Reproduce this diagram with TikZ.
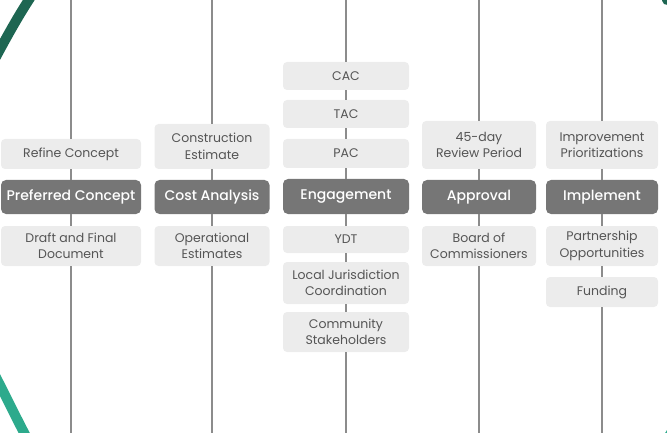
\documentclass[tikz,border=0pt]{standalone}
\usepackage{fontspec}
\setmainfont{Poppins}
\newfontfamily\phasefont{Poppins Medium}
\usetikzlibrary{calc}

\definecolor{boxlight}{HTML}{ECECEC}
\definecolor{boxdark}{HTML}{767676}
\definecolor{textgray}{HTML}{555555}
\definecolor{linegray}{HTML}{8C8C8C}
\definecolor{greendark}{HTML}{1E6652}
\definecolor{greenteal}{HTML}{2DAA8C}

\tikzset{
  task/.style={fill=boxlight, rounded corners=4pt, text=textgray, align=center,
    inner sep=0pt, font=\fontsize{12.5}{16.5}\selectfont},
  phase/.style={fill=boxdark, rounded corners=5pt, text=white, align=center,
    inner sep=0pt, font=\fontsize{14}{16}\selectfont\phasefont},
  track/.style={draw=linegray, line width=1.8pt},
  arc/.style={line width=10pt, line cap=round}
}

\begin{document}
\begin{tikzpicture}[x=1pt,y=-1pt]

\useasboundingbox (0,0) rectangle (667,433);
\clip (0,0) rectangle (667,433);

% green frame
\draw[arc,greendark](34,-8) .. controls (18,16) and (6,38) .. (-10,68);
\draw[arc,greenteal](-10,366) .. controls (4,392) and (14,414) .. (30,444);
\draw[arc,greendark](676,-12) -- (667,0);
\draw[arc,greenteal](664,444) -- (673,430);

% top and bottom ends of the tracks
\coordinate (t1) at (71,0);  \coordinate (b1) at (71,433);
\coordinate (t2) at (212,0); \coordinate (b2) at (212,433);
\coordinate (t3) at (346,0); \coordinate (b3) at (346,433);
\coordinate (t4) at (479,0); \coordinate (b4) at (479,433);
\coordinate (t5) at (602,0); \coordinate (b5) at (602,433);

% column 1
\node[task, minimum width=140pt, minimum height=30pt] (refine) at (71,154) {Refine Concept};
\node[phase, minimum width=140pt, minimum height=34pt] (preferred) at (71,197) {Preferred Concept};
\node[task, minimum width=140pt, minimum height=40pt] (draft) at (71,246) {Draft and Final\\Document};

% column 2
\node[task, minimum width=115pt, minimum height=45pt] (construction) at (212,146.5) {Construction\\Estimate};
\node[phase, minimum width=115pt, minimum height=34pt] (cost) at (212,197) {Cost Analysis};
\node[task, minimum width=115pt, minimum height=40pt] (operational) at (212,246) {Operational\\Estimates};

% column 3
\node[task, minimum width=126pt, minimum height=28pt] (cac) at (346,76) {CAC};
\node[task, minimum width=126pt, minimum height=28pt] (tac) at (346,114) {TAC};
\node[task, minimum width=126pt, minimum height=29pt] (pac) at (346,153.5) {PAC};
\node[phase, minimum width=126pt, minimum height=35pt] (engagement) at (346,196.5) {Engagement};
\node[task, minimum width=126pt, minimum height=27pt] (ydt) at (346,239.5) {YDT};
\node[task, minimum width=126pt, minimum height=42pt] (local) at (346,283) {Local Jurisdiction\\Coordination};
\node[task, minimum width=126pt, minimum height=40pt] (community) at (346,332) {Community\\Stakeholders};

% column 4
\node[task, minimum width=114pt, minimum height=48pt] (review) at (479,145) {45-day\\Review Period};
\node[phase, minimum width=114pt, minimum height=34pt] (approval) at (479,197) {Approval};
\node[task, minimum width=114pt, minimum height=40pt] (board) at (479,246) {Board of\\Commissioners};

% column 5
\node[task, minimum width=112pt, minimum height=48pt] (improvement) at (602,145) {Improvement\\Prioritizations};
\node[phase, minimum width=112pt, minimum height=34pt] (implement) at (602,197) {Implement};
\node[task, minimum width=112pt, minimum height=40pt] (partnership) at (602,246) {Partnership\\Opportunities};
\node[task, minimum width=112pt, minimum height=30pt] (funding) at (602,292) {Funding};

% tracks
\draw[track](t1)--(refine)--(preferred)--(draft)--(b1);
\draw[track](t2)--(construction)--(cost)--(operational)--(b2);
\draw[track](t3)--(cac)--(tac)--(pac)--(engagement)--(ydt)--(local)--(community)--(b3);
\draw[track](t4)--(review)--(approval)--(board)--(b4);
\draw[track](t5)--(improvement)--(implement)--(partnership)--(funding)--(b5);

\end{tikzpicture}
\end{document}
